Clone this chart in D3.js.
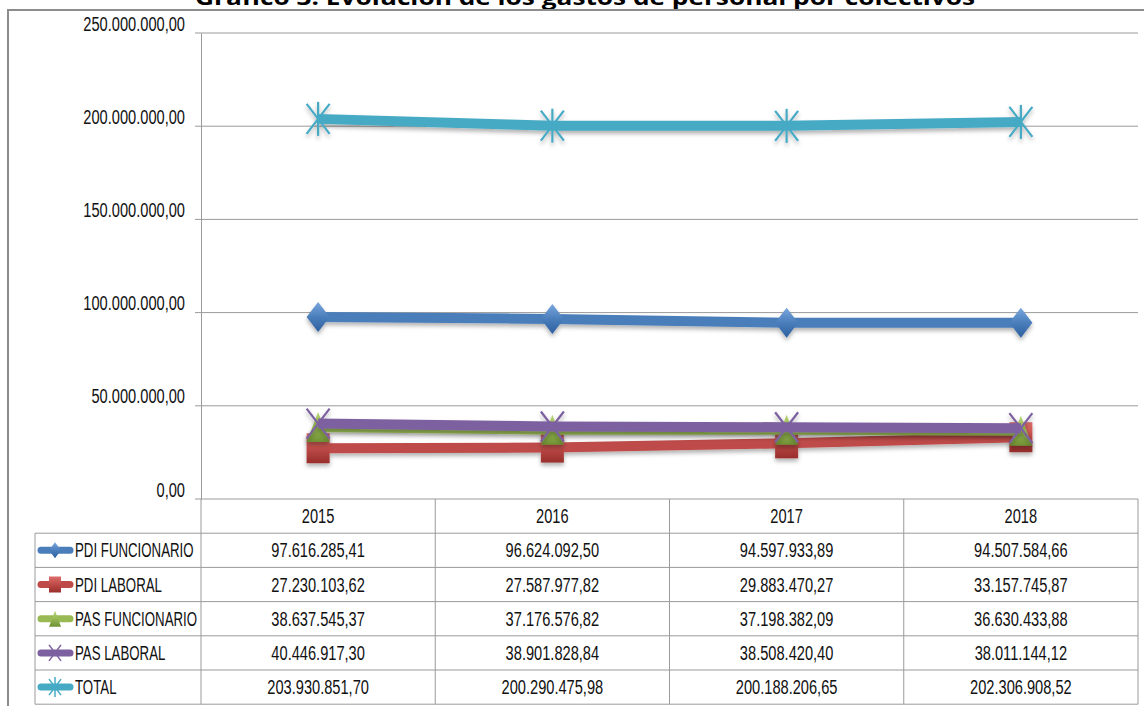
<!DOCTYPE html>
<html>
<head>
<meta charset="utf-8">
<script src="https://cdn.jsdelivr.net/npm/d3@7"></script>
<style>
  body { margin: 0; background: #fff; }
  text { font-family: "Liberation Sans", Arial, sans-serif; fill: #111; }
</style>
</head>
<body>
<div id="chart"></div>
<script>
// data
var years = ["2015", "2016", "2017", "2018"];
var seriesNames = ["PDI FUNCIONARIO", "PDI LABORAL", "PAS FUNCIONARIO", "PAS LABORAL", "TOTAL"];
var pdiFuncionario = [97616285.41, 96624092.50, 94597933.89, 94507584.66];
var pdiLaboral = [27230103.62, 27587977.82, 29883470.27, 33157745.87];
var pasFuncionario = [38637545.37, 37176576.82, 37198382.09, 36630433.88];
var pasLaboral = [40446917.30, 38901828.84, 38508420.40, 38011144.12];
var total = [203930851.70, 200290475.98, 200188206.65, 202306908.52];
var yTicks = [0, 50000000, 100000000, 150000000, 200000000, 250000000];

var seriesValues = [pdiFuncionario, pdiLaboral, pasFuncionario, pasLaboral, total];
var colors = ["#4a7ebb", "#be4b48", "#98b954", "#7d60a0", "#46aac5"];
var light = ["#7aa6de", "#dd6e6b", "#b6d474", "#9c80bf", "#6cc6dc"];
var dark = ["#2d5f9f", "#982e2b", "#6f9133", "#5c4080", "#2b8aa4"];
var shapes = ["diamond", "square", "triangle", "x", "star"];

// dimensions
var svgWidth = 1144, svgHeight = 706;
var plot = { left: 201, right: 1138, top: 33, bottom: 499 };
var rowH = 34.2;
var legendLeft = 35;
var fontSize = "19.5px";

var es = d3.formatLocale({ decimal: ",", thousands: ".", grouping: [3], currency: ["", "€"] });
var fmt = es.format(",.2f");

var svg = d3.select("#chart").append("svg")
  .attr("width", svgWidth)
  .attr("height", svgHeight);

// condense text horizontally (narrow font look)
function narrow(sel, k) {
  k = k || 0.75;
  sel.each(function() {
    var w = this.getComputedTextLength();
    d3.select(this).attr("textLength", w * k).attr("lengthAdjust", "spacingAndGlyphs");
  });
}

var defs = svg.append("defs");
var shadow = defs.append("filter").attr("id", "shadow")
  .attr("x", "-30%").attr("y", "-30%").attr("width", "160%").attr("height", "180%");
shadow.append("feDropShadow").attr("dx", 0).attr("dy", 3).attr("stdDeviation", 2)
  .attr("flood-color", "#000").attr("flood-opacity", 0.3);

colors.forEach(function(c, i) {
  var g = defs.append("linearGradient").attr("id", "grad" + i)
    .attr("x1", 0).attr("y1", 0).attr("x2", 0).attr("y2", 1);
  g.append("stop").attr("offset", "0%").attr("stop-color", light[i]);
  g.append("stop").attr("offset", "50%").attr("stop-color", c);
  g.append("stop").attr("offset", "100%").attr("stop-color", dark[i]);
});

// title (cut off at top, as in the source image)
svg.append("text")
  .attr("x", 585)
  .attr("y", 5)
  .attr("text-anchor", "middle")
  .attr("textLength", 780)
  .attr("lengthAdjust", "spacingAndGlyphs")
  .style("font-family", "'Open Sans', 'DejaVu Sans', sans-serif")
  .style("font-weight", "bold")
  .style("font-size", "22px")
  .style("fill", "#000")
  .text("Gráfico 3. Evolución de los gastos de personal por colectivos");

// outer frame
svg.append("path")
  .attr("d", "M8," + (svgHeight + 5) + " L8,10 L" + (svgWidth + 5) + ",10")
  .attr("fill", "none")
  .attr("stroke", "#8c8c8c")
  .attr("stroke-width", 2);

// scales
var x = d3.scaleBand().domain(years).range([plot.left, plot.right]);
var y = d3.scaleLinear().domain([0, 250000000]).range([plot.bottom, plot.top]);

// gridlines
svg.append("g")
  .selectAll("line")
  .data(yTicks)
  .enter().append("line")
  .attr("x1", plot.left - 6)
  .attr("x2", plot.right)
  .attr("y1", d => y(d))
  .attr("y2", d => y(d))
  .attr("stroke", "#9a9a9a")
  .attr("stroke-width", 1);

// y axis
var leftAxis = d3.axisLeft(y).tickValues(yTicks).tickFormat(fmt).tickSize(0).tickPadding(16);
var yAxis = svg.append("g")
  .attr("transform", "translate(" + plot.left + ",0)")
  .call(leftAxis);
yAxis.select(".domain").attr("stroke", "#9a9a9a");
yAxis.selectAll("text")
  .style("font-family", "'Liberation Sans', Arial, sans-serif")
  .style("font-size", fontSize)
  .style("fill", "#111")
  .attr("dy", "-0.15em")
  .call(narrow);

// data table
var table = svg.append("g");
var rowsTop = plot.bottom + rowH;
var tableBottom = plot.bottom + rowH * 6;
var vlines = years.map(d => x(d)).concat([plot.right]);
table.selectAll(".vl")
  .data(vlines)
  .enter().append("line")
  .attr("x1", d => d).attr("x2", d => d)
  .attr("y1", plot.bottom).attr("y2", tableBottom)
  .attr("stroke", "#9a9a9a");
table.append("line")
  .attr("x1", legendLeft).attr("x2", legendLeft)
  .attr("y1", rowsTop).attr("y2", tableBottom)
  .attr("stroke", "#9a9a9a");
table.selectAll(".hl")
  .data(d3.range(1, 7))
  .enter().append("line")
  .attr("x1", legendLeft).attr("x2", plot.right)
  .attr("y1", d => plot.bottom + rowH * d)
  .attr("y2", d => plot.bottom + rowH * d)
  .attr("stroke", "#9a9a9a");

table.selectAll(".yr")
  .data(years)
  .enter().append("text")
  .attr("x", d => x(d) + x.bandwidth() / 2)
  .attr("y", plot.bottom + rowH / 2 + 7)
  .attr("text-anchor", "middle")
  .style("font-size", fontSize)
  .text(d => d)
  .call(narrow);

seriesValues.forEach(function(vals, i) {
  var cy = rowsTop + rowH * i + rowH / 2;
  table.selectAll(".v" + i)
    .data(vals)
    .enter().append("text")
    .attr("x", (d, j) => x(years[j]) + x.bandwidth() / 2)
    .attr("y", cy + 7)
    .attr("text-anchor", "middle")
    .style("font-size", fontSize)
    .text(d => fmt(d))
    .call(narrow);

  // legend key
  table.append("line")
    .attr("x1", 41).attr("x2", 70)
    .attr("y1", cy).attr("y2", cy)
    .attr("stroke", colors[i])
    .attr("stroke-width", 7)
    .attr("stroke-linecap", "round");
  drawMarker(table, shapes[i], 55, cy, 12, 16, i);
  table.append("text")
    .attr("x", 75)
    .attr("y", cy + 7)
    .style("font-size", fontSize)
    .text(seriesNames[i])
    .call(narrow, 0.68);
});

function drawMarker(g, shape, cx, cy, w, h, i) {
  var m = g.append("g").attr("transform", "translate(" + cx + "," + cy + ")");
  if (shape === "diamond") {
    m.append("path")
      .attr("d", "M0," + (-h / 2) + "L" + (w / 2) + ",0L0," + (h / 2) + "L" + (-w / 2) + ",0Z")
      .attr("fill", "url(#grad" + i + ")");
  } else if (shape === "square") {
    m.append("rect")
      .attr("x", -w / 2).attr("y", -h / 2).attr("width", w).attr("height", h)
      .attr("fill", "url(#grad" + i + ")");
  } else if (shape === "triangle") {
    m.append("path")
      .attr("d", "M0," + (-h / 2) + "L" + (w / 2) + "," + (h / 2) + "L" + (-w / 2) + "," + (h / 2) + "Z")
      .attr("fill", "url(#grad" + i + ")");
  } else if (shape === "x" || shape === "star") {
    var sw = w > 15 ? 2.2 : 1.5;
    m.append("line").attr("x1", -w / 2).attr("y1", -h / 2).attr("x2", w / 2).attr("y2", h / 2)
      .attr("stroke", colors[i]).attr("stroke-width", sw);
    m.append("line").attr("x1", w / 2).attr("y1", -h / 2).attr("x2", -w / 2).attr("y2", h / 2)
      .attr("stroke", colors[i]).attr("stroke-width", sw);
    if (shape === "star") {
      m.append("line").attr("x1", 0).attr("y1", -h / 2 - 2).attr("x2", 0).attr("y2", h / 2 + 2)
        .attr("stroke", colors[i]).attr("stroke-width", sw);
    }
  }
  return m;
}

// lines
var line = d3.line()
  .x((d, j) => x(years[j]) + x.bandwidth() / 2)
  .y(d => y(d));

seriesValues.forEach(function(vals, i) {
  var g = svg.append("g").attr("filter", "url(#shadow)");
  g.append("path")
    .datum(vals)
    .attr("d", line)
    .attr("fill", "none")
    .attr("stroke", colors[i])
    .attr("stroke-width", 10);
  vals.forEach(function(v, j) {
    drawMarker(g, shapes[i], x(years[j]) + x.bandwidth() / 2, y(v), 23, 30, i);
  });
});
</script>
</body>
</html>
